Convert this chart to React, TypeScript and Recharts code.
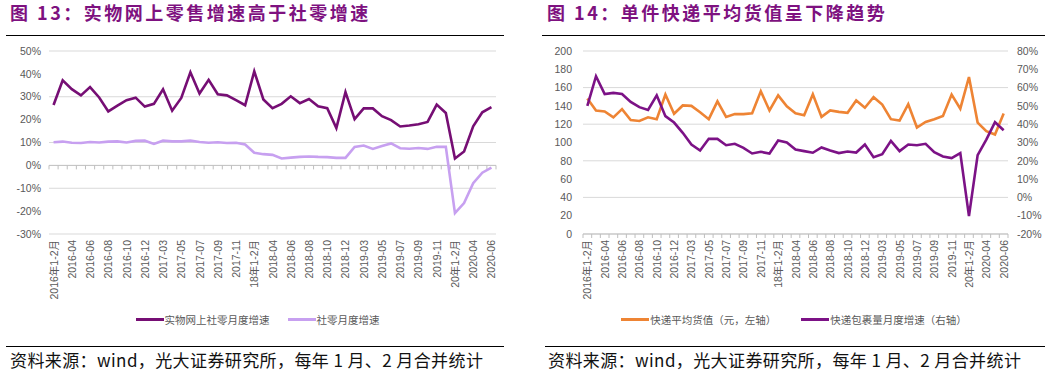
import React from "react";
import {
  LineChart,
  Line,
  XAxis,
  YAxis,
  CartesianGrid,
  Legend,
  ReferenceLine,
} from "recharts";

// ---------- data ----------
const months: string[] = [
  "2016年1-2月", "2016-03", "2016-04", "2016-05", "2016-06", "2016-07", "2016-08", "2016-09", "2016-10", "2016-11", "2016-12",
  "17年1-2月", "2017-03", "2017-04", "2017-05", "2017-06", "2017-07", "2017-08", "2017-09", "2017-10", "2017-11", "2017-12",
  "18年1-2月", "2018-03", "2018-04", "2018-05", "2018-06", "2018-07", "2018-08", "2018-09", "2018-10", "2018-11", "2018-12",
  "19年1-2月", "2019-03", "2019-04", "2019-05", "2019-06", "2019-07", "2019-08", "2019-09", "2019-10", "2019-11", "2019-12",
  "20年1-2月", "2020-03", "2020-04", "2020-05", "2020-06",
];

// 图13: 实物网上社零月度增速 (%)
const onlineRetailGrowth: number[] = [
  26.4, 37.2, 33.3, 30.6, 34.2, 29.7, 23.6, 26.1, 28.5, 29.6, 25.7,
  26.9, 33.3, 23.9, 29.5, 40.7, 31.4, 37.4, 31.1, 30.6, 28.5, 26.3,
  41.1, 28.8, 25.0, 26.9, 30.2, 27.2, 29.0, 25.8, 25.0, 16.3, 32.0,
  20.2, 24.9, 24.9, 21.5, 19.8, 17.0, 17.4, 18.0, 19.0, 26.6, 22.9,
  3.0, 6.1, 17.1, 23.2, 25.5,
];

// 图13: 社零月度增速 (%)
const retailGrowth: number[] = [
  10.1, 10.4, 9.9, 9.8, 10.2, 10.0, 10.4, 10.5, 10.0, 10.7, 10.8,
  9.4, 10.8, 10.5, 10.5, 10.8, 10.2, 9.9, 10.1, 9.8, 9.9, 9.1,
  5.5, 4.9, 4.6, 3.0, 3.4, 3.7, 3.9, 3.7, 3.6, 3.3, 3.3,
  8.1, 8.7, 7.2, 8.5, 9.6, 7.5, 7.3, 7.6, 7.2, 8.1, 8.1,
  -20.9, -16.5, -7.8, -3.2, -1.0,
];

// 图14: 快递平均货值（元）
const parcelValue: number[] = [
  148, 135, 134, 127.5, 136.5, 124.5, 123.5, 127.5, 125.5, 152.5, 131.5,
  140.5, 140, 133, 125.5, 145, 128, 131, 131, 132, 156, 135,
  151.5, 139.5, 132, 129.8, 152.7, 128, 135, 133.5, 132.4, 146, 138,
  149.5, 141.5, 125.5, 124, 141.8, 116.4, 122.5, 125.5, 129, 152.4, 137,
  171.6, 121.8, 112.4, 108.7, 131.6,
];

// 图14: 快递包裹量月度增速 (%)
const parcelGrowth: number[] = [
  50.0, 66.2, 56.5, 57.1, 56.5, 52.2, 49.3, 47.8, 55.8, 44.4, 40.9,
  35.3, 28.9, 25.6, 32.0, 32.0, 28.5, 29.3, 27.1, 24.0, 24.9, 24.0,
  31.1, 30.0, 26.2, 25.3, 24.4, 27.3, 25.6, 24.2, 25.1, 24.5, 28.9,
  22.0, 23.6, 30.9, 25.3, 28.9, 28.5, 29.3, 24.7, 22.4, 21.5, 24.2,
  -10.2, 23.1, 31.6, 41.1, 36.7,
];

const pctTicksLeft: number[] = [-30, -20, -10, 0, 10, 20, 30, 40, 50];
const valueTicks: number[] = [0, 20, 40, 60, 80, 100, 120, 140, 160, 180, 200];
const pctTicksRight: number[] = [-20, -10, 0, 10, 20, 30, 40, 50, 60, 70, 80];

const chart13Data = months.map((m, i) => ({
  month: m,
  online: onlineRetailGrowth[i],
  retail: retailGrowth[i],
}));

const chart14Data = months.map((m, i) => ({
  month: m,
  value: parcelValue[i],
  growth: parcelGrowth[i],
}));

// ---------- styles ----------
const FONT = "'Liberation Sans', Arial, 'Noto Sans CJK SC', sans-serif";
const CJK = "'Noto Sans CJK SC', 'Liberation Sans', sans-serif";
const AXIS_TEXT = "#595959";
const GRID = "#d9d9d9";
const TITLE_COLOR = "#7E1180";

const C_ONLINE = "#760E74";
const C_RETAIL = "#C7A0F0";
const C_VALUE = "#EE8434";
const C_GROWTH = "#7C1286";

const N_ONLINE = "实物网上社零月度增速";
const N_RETAIL = "社零月度增速";
const N_VALUE = "快递平均货值（元，左轴）";
const N_GROWTH = "快递包裹量月度增速（右轴）";

const XTick = (props: any) => {
  const { x, y, payload } = props;
  return (
    <text
      x={x}
      y={y}
      transform={`rotate(-90 ${x} ${y})`}
      textAnchor="end"
      dominantBaseline="central"
      fontSize={10.5}
      fill={AXIS_TEXT}
      fontFamily={FONT}
    >
      {payload.value}
    </text>
  );
};

// horizontal axis line with category-boundary tick marks
const makeAxisShape = (count: number) => (props: any) => {
  const { x1, x2, y1 } = props;
  const marks = [];
  for (let k = 0; k <= count; k++) {
    const x = x1 + ((x2 - x1) * k) / count;
    marks.push(<line key={k} x1={x} y1={y1} x2={x} y2={y1 + 4} stroke="#bfbfbf" strokeWidth={1} />);
  }
  return (
    <g>
      <line x1={x1} y1={y1} x2={x2} y2={y1} stroke="#bfbfbf" strokeWidth={1} />
      {marks}
    </g>
  );
};

const makeLegend = (gap: number, items: { name: string; color: string }[]) => () => (
  <div
    style={{
      display: "flex",
      justifyContent: "center",
      alignItems: "center",
      height: 20,
      fontSize: 10.5,
      color: AXIS_TEXT,
      fontFamily: CJK,
      whiteSpace: "nowrap",
    }}
  >
    {items.map((it, i) => (
      <span key={i} style={{ display: "flex", alignItems: "center", marginLeft: i === 0 ? 0 : gap }}>
        <span style={{ display: "inline-block", width: 28, height: 3, background: it.color, marginRight: 1 }} />
        {it.name}
      </span>
    ))}
  </div>
);

const LEFT_W = 515;
const LEFT_PLOT_W = 447;
const RIGHT_W = 528;
const RIGHT_PLOT_W = 425;
const CHART_H = 289;

const Title = ({ left, num, text }: { left: number; num: string; text: string }) => (
  <div
    style={{
      position: "absolute",
      left,
      top: 2,
      fontFamily: CJK,
      fontWeight: 700,
      fontSize: 18,
      lineHeight: "20px",
      letterSpacing: 2.5,
      color: TITLE_COLOR,
      whiteSpace: "nowrap",
    }}
  >
    {`图 ${num}：${text}`}
  </div>
);

const Rule = ({ left, width, top }: { left: number; width: number; top: number }) => (
  <div style={{ position: "absolute", left, top, width, height: 1, background: "#000" }} />
);

const Source = ({ left }: { left: number }) => (
  <div
    style={{
      position: "absolute",
      left,
      top: 350,
      fontFamily: CJK,
      fontSize: 17,
      lineHeight: "20px",
      letterSpacing: 0.4,
      color: "#111",
      whiteSpace: "nowrap",
    }}
  >
    资料来源：wind，光大证券研究所，每年 1 月、2 月合并统计
  </div>
);

export default function App() {
  return (
    <div
      style={{
        position: "absolute",
        left: 0,
        top: 0,
        width: 1058,
        height: 381,
        background: "#fff",
        overflow: "hidden",
        fontFamily: FONT,
      }}
    >
      <Title left={10} num="13" text="实物网上零售增速高于社零增速" />
      <Title left={547} num="14" text="单件快递平均货值呈下降趋势" />
      <Rule left={6} width={498} top={35} />
      <Rule left={542} width={503} top={35} />

      <div style={{ position: "absolute", left: 0, top: 40 }}>
        <LineChart
          width={LEFT_W}
          height={CHART_H}
          data={chart13Data}
          margin={{ top: 11, right: LEFT_W - 49 - LEFT_PLOT_W, bottom: 0, left: 0 }}
        >
          <CartesianGrid vertical={false} stroke={GRID} strokeWidth={1} />
          <XAxis
            dataKey="month"
            interval={1}
            tickLine={false}
            axisLine={false}
            tickSize={0}
            tickMargin={6}
            height={75}
            tick={<XTick />}
            padding={{ left: LEFT_PLOT_W / 98, right: LEFT_PLOT_W / 98 }}
          />
          <YAxis
            domain={[-30, 50]}
            ticks={pctTicksLeft}
            tickFormatter={(v: number) => `${v}%`}
            axisLine={false}
            tickLine={false}
            tickSize={0}
            tickMargin={8}
            width={49}
            tick={{ fontSize: 10.5, fill: AXIS_TEXT }}
          />
          <ReferenceLine y={0} shape={makeAxisShape(months.length)} />
          <Line
            type="linear"
            dataKey="online"
            name={N_ONLINE}
            stroke={C_ONLINE}
            strokeWidth={2.6}
            dot={false}
            isAnimationActive={false}
          />
          <Line
            type="linear"
            dataKey="retail"
            name={N_RETAIL}
            stroke={C_RETAIL}
            strokeWidth={2.6}
            dot={false}
            isAnimationActive={false}
          />
          <Legend
            verticalAlign="bottom"
            height={20}
            content={makeLegend(18, [
              { name: N_ONLINE, color: C_ONLINE },
              { name: N_RETAIL, color: C_RETAIL },
            ])}
            wrapperStyle={{ left: 0, width: LEFT_W }}
          />
        </LineChart>
      </div>

      <div style={{ position: "absolute", left: 530, top: 40 }}>
        <LineChart
          width={RIGHT_W}
          height={CHART_H}
          data={chart14Data}
          margin={{ top: 11, right: 0, bottom: 0, left: 0 }}
        >
          <CartesianGrid vertical={false} stroke={GRID} strokeWidth={1} yAxisId="left" />
          <XAxis
            dataKey="month"
            interval={1}
            tickLine={false}
            axisLine={false}
            tickSize={0}
            tickMargin={6}
            height={75}
            tick={<XTick />}
            padding={{ left: RIGHT_PLOT_W / 98, right: RIGHT_PLOT_W / 98 }}
          />
          <YAxis
            yAxisId="left"
            domain={[0, 200]}
            ticks={valueTicks}
            axisLine={false}
            tickLine={false}
            tickSize={0}
            tickMargin={11}
            width={53}
            tick={{ fontSize: 10.5, fill: AXIS_TEXT }}
          />
          <YAxis
            yAxisId="right"
            orientation="right"
            domain={[-20, 80]}
            ticks={pctTicksRight}
            tickFormatter={(v: number) => `${v}%`}
            axisLine={false}
            tickLine={false}
            tickSize={0}
            tickMargin={9}
            width={50}
            tick={{ fontSize: 10.5, fill: AXIS_TEXT, textAnchor: "start" }}
          />
          <ReferenceLine yAxisId="left" y={0} shape={makeAxisShape(months.length)} />
          <Line
            yAxisId="left"
            type="linear"
            dataKey="value"
            name={N_VALUE}
            stroke={C_VALUE}
            strokeWidth={2.6}
            dot={false}
            isAnimationActive={false}
          />
          <Line
            yAxisId="right"
            type="linear"
            dataKey="growth"
            name={N_GROWTH}
            stroke={C_GROWTH}
            strokeWidth={2.6}
            dot={false}
            isAnimationActive={false}
          />
          <Legend
            verticalAlign="bottom"
            height={20}
            content={makeLegend(25, [
              { name: N_VALUE, color: C_VALUE },
              { name: N_GROWTH, color: C_GROWTH },
            ])}
            wrapperStyle={{ left: 0, width: RIGHT_W }}
          />
        </LineChart>
      </div>

      <Rule left={6} width={498} top={346} />
      <Rule left={545} width={500} top={346} />
      <Source left={10} />
      <Source left={548} />
    </div>
  );
}
